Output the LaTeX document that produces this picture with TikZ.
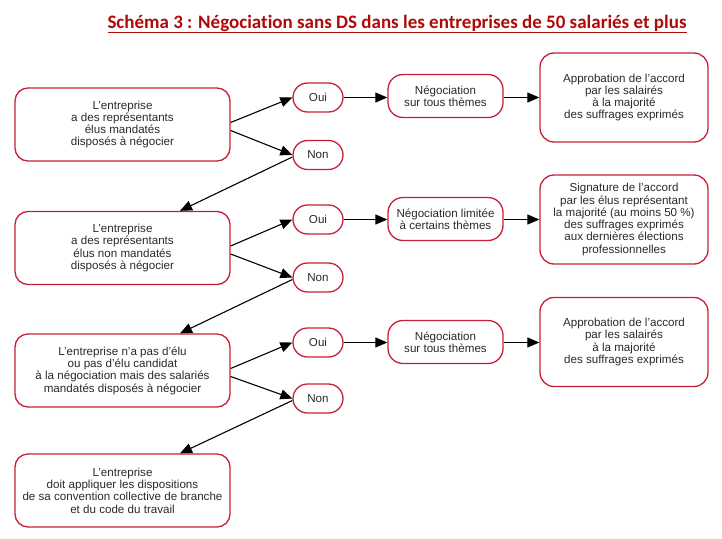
\documentclass[tikz,border=0pt]{standalone}
\usepackage{fontspec}
\setmainfont{Liberation Sans}
\newfontfamily\titlefont[Ligatures=NoCommon]{Carlito}
\usetikzlibrary{arrows.meta}
\definecolor{BoxClr}{rgb}{0.78,0.12,0.22}
\definecolor{TitleClr}{rgb}{0.68,0.04,0.04}
\definecolor{TxtClr}{rgb}{0.16,0.16,0.16}

\tikzset{
  box/.style={draw=BoxClr,line width=1.3pt,rounded corners=13pt,align=center,
    text=TxtClr,inner sep=0pt,font=\fontsize{11.6}{12.3}\selectfont},
  casebox/.style={box,minimum width=215pt,minimum height=73pt},
  answer/.style={box,minimum width=50pt,minimum height=29pt,rounded corners=14.5pt},
  talks/.style={box,minimum width=115pt,minimum height=43pt,rounded corners=15pt},
  result/.style={box,minimum width=168pt,minimum height=89pt,rounded corners=14pt},
  link/.style={line width=1.1pt,-{Triangle[length=12pt,width=10pt]}}
}

\begin{document}
\begin{tikzpicture}[x=1pt,y=-1pt]
\useasboundingbox (0,0) rectangle (722,538);

\node[text=TitleClr,font=\titlefont\bfseries\fontsize{19}{22}\selectfont] (title) at (397,24)
  {\underline{Schéma 3 : Négociation sans DS dans les entreprises de 50 salariés et plus}};

% left column
\node[casebox] (case1) at (122.5,124.5) {L'entreprise\\a des représentants\\élus mandatés\\disposés à négocier};
\node[casebox] (case2) at (122.5,248) {L'entreprise\\a des représentants\\élus non mandatés\\disposés à négocier};
\node[casebox] (case3) at (122.5,370.5) {L'entreprise n'a pas d'élu\\ou pas d'élu candidat\\à la négociation mais des salariés\\mandatés disposés à négocier};
\node[casebox] (case4) at (122.5,490.5) {L'entreprise\\doit appliquer les dispositions\\de sa convention collective de branche\\et du code du travail};

% answers
\node[answer] (oui1) at (318,97.5) {Oui};
\node[answer] (non1) at (318,155) {Non};
\node[answer] (oui2) at (318,219.5) {Oui};
\node[answer] (non2) at (318,277.5) {Non};
\node[answer] (oui3) at (318,342.5) {Oui};
\node[answer] (non3) at (318,398.5) {Non};

% negotiations and agreements
\node[talks] (neg1) at (445.5,96) {Négociation\\sur tous thèmes};
\node[talks] (neg2) at (445.5,219) {Négociation limitée\\à certains thèmes};
\node[talks] (neg3) at (445.5,342) {Négociation\\sur tous thèmes};

\node[result] (agr1) at (624,97.5) {Approbation de l'accord\\par les salairés\\à la majorité\\des suffrages exprimés};
\node[result] (agr2) at (624,219.5) {Signature de l'accord\\par les élus représentant\\la majorité (au moins 50 \%)\\des suffrages exprimés\\aux dernières élections\\professionnelles};
\node[result] (agr3) at (624,342) {Approbation de l'accord\\par les salairés\\à la majorité\\des suffrages exprimés};

\foreach \i in {1,2,3}{
  \draw[link] ([yshift=2pt]case\i.east) -- (oui\i.west);
  \draw[link] ([yshift=-6pt]case\i.east) -- (non\i.west);
  \draw[link] (oui\i.east) -- (neg\i.west |- oui\i.east);
  \draw[link] (neg\i.east |- oui\i.east) -- (agr\i.west |- oui\i.east);
}
\draw[link] ([yshift=-2pt]non1.west) -- ([xshift=57.5pt]case2.north);
\draw[link] ([yshift=-2pt]non2.west) -- ([xshift=57.5pt]case3.north);
\draw[link] ([yshift=-2pt]non3.west) -- ([xshift=57.5pt]case4.north);

\end{tikzpicture}
\end{document}
